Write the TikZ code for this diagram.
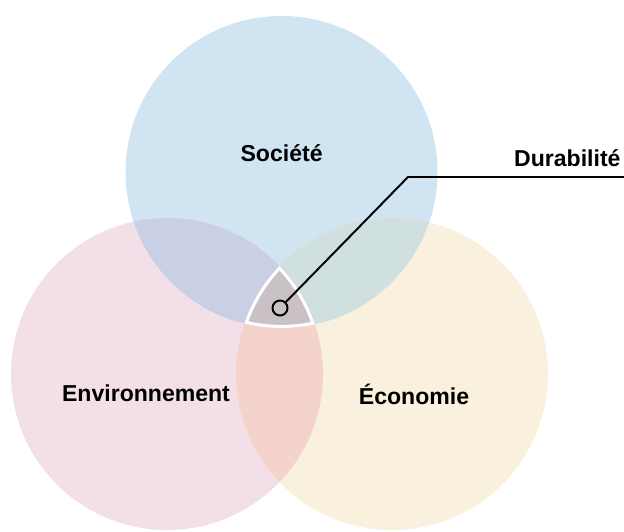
\documentclass[tikz,border=0pt]{standalone}
\usepackage{fontspec}
\setmainfont{Liberation Sans}
\usepackage{tikz}
\usetikzlibrary{calc}
\definecolor{socc}{RGB}{208,228,242}
\definecolor{envc}{RGB}{242,223,231}
\definecolor{ecoc}{RGB}{250,240,222}
\definecolor{socenvc}{RGB}{201,207,229}
\definecolor{socecoc}{RGB}{207,224,223}
\definecolor{envecoc}{RGB}{243,211,203}
\definecolor{durc}{RGB}{201,193,198}
\tikzset{lab/.style={font=\fontsize{16.4}{20}\selectfont\bfseries,anchor=base,inner sep=0pt}}

\begin{document}
\begin{tikzpicture}[scale=1]
        \useasboundingbox(0,0)rectangle(15.6,13.275);
        \def\soc{(7.0375,8.975)circle(3.9)}
        \def\env{(4.175,3.925)circle(3.9)}
        \def\eco{(9.8,3.925)circle(3.9)}
        \fill[socc]\soc;
        \fill[envc]\env;
        \fill[ecoc]\eco;
        \begin{scope}\clip\soc;\fill[socenvc]\env;\end{scope}
        \begin{scope}\clip\soc;\fill[socecoc]\eco;\end{scope}
        \begin{scope}\clip\env;\fill[envecoc]\eco;\end{scope}
        % centre
        \begin{scope}
            \clip\soc;\clip\env;\clip\eco;
            \fill[durc]\soc;
            \draw[white,line width=4.4pt]\soc \env \eco;
        \end{scope}
        \node[lab](soc)at(7.04,9.225){Société};
        \node[lab](env)at(3.65,3.25){Environnement};
        \node[lab](eco)at(10.35,3.175){Économie};
        \node[lab,anchor=base east](dur)at(15.52,9.108){Durabilité};
        \node[circle,draw,line width=1.4pt,inner sep=0pt,minimum size=0.375cm](dot)at(7.0,5.575){};
        \coordinate(knick)at(10.2,8.85);
        \coordinate(fin)at(15.6,8.85);
        \draw[line width=1.4pt](dot)--(knick)--(fin);
    \end{tikzpicture}
\end{document}
